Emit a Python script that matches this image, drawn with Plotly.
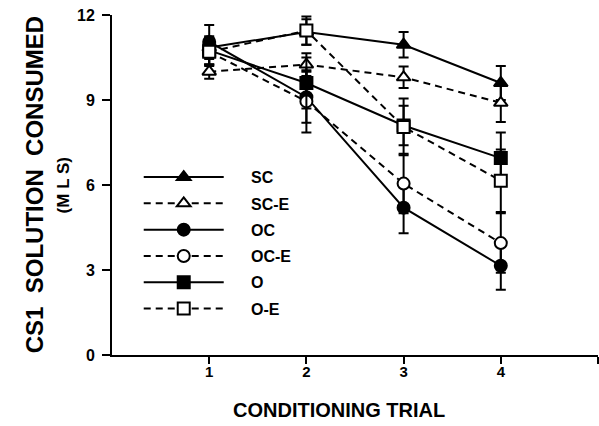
import plotly.graph_objects as go

trials = [1, 2, 3, 4]
series_names = ["SC", "SC-E", "OC", "OC-E", "O", "O-E"]
sc = [10.85, 11.4, 10.95, 9.6]
sc_err = [0.35, 0.45, 0.45, 0.6]
sc_e = [10.0, 10.25, 9.8, 8.9]
sc_e_err = [0.25, 0.4, 0.38, 0.68]
oc = [11.05, 9.1, 5.2, 3.15]
oc_err = [0.6, 0.9, 0.9, 0.85]
oc_e = [10.7, 8.95, 6.05, 3.95]
oc_e_err = [0.45, 1.1, 1.05, 1.05]
o = [10.75, 9.6, 8.1, 6.95]
o_err = [0.5, 0.9, 0.7, 0.9]
o_e = [10.7, 11.45, 8.05, 6.15]
o_e_err = [0.5, 0.5, 1.0, 1.1]

y_ticks = [0, 3, 6, 9, 12]
x_tick_vals = [1, 2, 3, 4, 5]
x_tick_text = ["1", "2", "3", "4", ""]

values = [sc, sc_e, oc, oc_e, o, o_e]
errors = [sc_err, sc_e_err, oc_err, oc_e_err, o_err, o_e_err]
symbols = ["triangle-up", "triangle-up", "circle", "circle", "square", "square"]
fills = ["black", "white", "black", "white", "black", "white"]
dashes = ["solid", "7px,5px", "solid", "7px,5px", "solid", "7px,5px"]

pad = "\u00a0" * 5

fig = go.Figure()
for name, v, e, s, f, d in zip(series_names, values, errors, symbols, fills, dashes):
    fig.add_trace(go.Scatter(
        x=trials, y=v, name=pad + name, mode="lines+markers",
        legendgroup=name,
        line=dict(color="black", width=2, dash=d),
        marker=dict(symbol=s, size=12, color=f, line=dict(color="black", width=2)),
        error_y=dict(type="data", array=e, visible=True, color="black", thickness=2, width=5),
        cliponaxis=False,
    ))

fig.update_layout(
    width=599, height=426,
    margin=dict(l=112, r=1, t=15, b=71),
    paper_bgcolor="white", plot_bgcolor="white",
    font=dict(family="Liberation Sans", color="black", size=15),
    showlegend=True,
    legend=dict(
        x=0.055, y=0.329, xanchor="left", yanchor="middle",
        font=dict(size=16, family="Liberation Sans", color="black", weight="bold"),
        itemwidth=80, tracegroupgap=2.5, bgcolor="rgba(0,0,0,0)",
    ),
    xaxis=dict(
        range=[0, 5], tickvals=x_tick_vals, ticktext=x_tick_text,
        showgrid=False, zeroline=False, showline=True, linecolor="black", linewidth=2,
        ticks="outside", ticklen=7, tickwidth=2, tickcolor="black",
        tickfont=dict(size=15, weight="bold"), ticklabelstandoff=-5,
    ),
    yaxis=dict(
        range=[0, 12], tickvals=y_ticks,
        showgrid=False, zeroline=False, showline=True, linecolor="black", linewidth=2,
        ticks="outside", ticklen=8, tickwidth=2, tickcolor="black",
        tickfont=dict(size=16, weight="bold"), ticklabelstandoff=4,
    ),
    annotations=[
        dict(text="CS1\u00a0\u00a0SOLUTION\u00a0\u00a0CONSUMED", textangle=-90, xref="paper", yref="paper",
             x=-0.16, y=0.5, xanchor="center", yanchor="middle", showarrow=False,
             font=dict(size=24, weight="bold")),
        dict(text="(M L S)", textangle=-90, xref="paper", yref="paper",
             x=-0.1, y=0.5, xanchor="center", yanchor="middle", showarrow=False,
             font=dict(size=17, weight="bold")),
        dict(text="CONDITIONING TRIAL", xref="paper", yref="paper",
             x=0.467, y=-0.162, xanchor="center", yanchor="middle", showarrow=False,
             font=dict(size=20, weight="bold")),
    ],
)

fig.write_html("out.html")
